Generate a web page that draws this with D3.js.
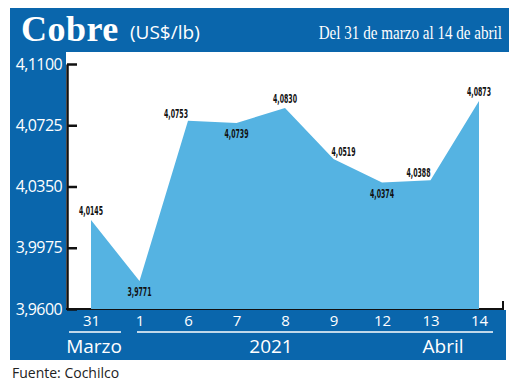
<!DOCTYPE html>
<html lang="es">
<head>
<meta charset="UTF-8">
<script src="https://d3js.org/d3.v7.min.js"></script>
<style>
    body { margin: 0; background: #fff; }
    svg { display: block; }
    .tick text { fill: #fff; font-family: "Open Sans", sans-serif; }
    .lbl { font-family: "Liberation Sans Narrow", "DejaVu Sans Condensed", sans-serif; font-weight: bold; font-size: 12px; fill: #111; }
</style>
</head>
<body>
<div id="chart"></div>
<script>
// data
const days = ["31", "1", "6", "7", "8", "9", "12", "13", "14"];
const prices = [4.0145, 3.9771, 4.0753, 4.0739, 4.0830, 4.0519, 4.0374, 4.0388, 4.0873];
const yTicks = [3.9600, 3.9975, 4.0350, 4.0725, 4.1100];
// where each value label sits relative to its point
const labelPos = ["above", "below", "left", "below", "above", "right", "below", "left", "above"];
const monthLabels = [
    { text: "Marzo", x: 94 },
    { text: "2021", x: 271 },
    { text: "Abril", x: 443 }
];

const W = 520, H = 386;
const blue = "#0a66ac";
const fill = "#55b3e2";
const fmt = v => d3.format(".4f")(v).replace(".", ",");

const svg = d3.select("#chart").append("svg")
    .attr("width", W)
    .attr("height", H);

// blue frame
svg.append("rect").attr("x", 10).attr("y", 8).attr("width", 499).attr("height", 44).attr("fill", blue);
svg.append("rect").attr("x", 10).attr("y", 8).attr("width", 56).attr("height", 352).attr("fill", blue);
svg.append("rect").attr("x", 10).attr("y", 310).attr("width", 496).attr("height", 50).attr("fill", blue);

// header
svg.append("text")
    .attr("x", 21).attr("y", 41)
    .attr("fill", "#fff")
    .style("font-family", "'Liberation Serif', serif")
    .style("font-weight", "bold")
    .style("font-size", "36px")
    .style("letter-spacing", "0.5px")
    .text("Cobre");
svg.append("text")
    .attr("x", 130).attr("y", 39)
    .attr("fill", "#fff")
    .style("font-family", "'Open Sans', sans-serif")
    .style("font-size", "19px")
    .text("(US$/lb)");
svg.append("g")
    .attr("transform", "translate(502,39) scale(0.84,1)")
    .append("text")
    .attr("text-anchor", "end")
    .attr("fill", "#fff")
    .style("font-family", "'Liberation Serif', serif")
    .style("font-size", "18px")
    .text("Del 31 de marzo al 14 de abril");

const x = d3.scalePoint().domain(days).range([91, 479]);
const y = d3.scaleLinear().domain([3.96, 4.11]).range([309, 64]);

// y axis
const yAxis = svg.append("g")
    .attr("transform", "translate(67,0)")
    .call(d3.axisLeft(y).tickValues(yTicks).tickFormat(fmt)
        .tickSizeInner(-10).tickSizeOuter(0).tickPadding(5));
yAxis.select(".domain").attr("stroke", "#111").attr("stroke-width", 2.5);
yAxis.selectAll(".tick line").attr("stroke", "#111").attr("stroke-width", 2.5);
yAxis.selectAll(".tick text").style("font-size", "16px").style("letter-spacing", "-0.6px");

// bottom baseline
svg.append("path")
    .attr("d", `M66,${y(3.96)}H503V${y(3.96) - 8}`)
    .attr("fill", "none")
    .attr("stroke", "#111")
    .attr("stroke-width", 2);

// area
const area = d3.area()
    .x((d, i) => x(days[i]))
    .y0(y(3.96))
    .y1(d => y(d));
svg.append("path")
    .datum(prices)
    .attr("d", area)
    .attr("fill", fill);

// value labels
svg.selectAll(".lbl")
    .data(prices)
    .enter()
    .append("text")
    .attr("class", "lbl")
    .attr("x", (d, i) => labelPos[i] === "right" ? x(days[i]) - 2 : x(days[i]))
    .attr("y", (d, i) => {
        const py = y(d);
        if (labelPos[i] === "below") return py + 15;
        if (labelPos[i] === "left" || labelPos[i] === "right") return py - 3;
        return py - 5;
    })
    .attr("text-anchor", (d, i) => labelPos[i] === "left" ? "end" : labelPos[i] === "right" ? "start" : "middle")
    .attr("textLength", 24)
    .attr("lengthAdjust", "spacingAndGlyphs")
    .text(fmt);

// x axis labels
const xAxis = svg.append("g")
    .attr("transform", "translate(0,313)")
    .call(d3.axisBottom(x).tickSize(0).tickPadding(2));
xAxis.select(".domain").remove();
xAxis.selectAll(".tick text").style("font-size", "15px");

// month separators
svg.append("line").attr("x1", 69).attr("x2", 121).attr("y1", 332).attr("y2", 332)
    .attr("stroke", "#fff").attr("stroke-width", 1.5);
svg.append("line").attr("x1", 137).attr("x2", 493).attr("y1", 332).attr("y2", 332)
    .attr("stroke", "#fff").attr("stroke-width", 1.5);

svg.selectAll(".month")
    .data(monthLabels)
    .enter()
    .append("text")
    .attr("class", "month")
    .attr("x", d => d.x)
    .attr("y", 353)
    .attr("text-anchor", "middle")
    .attr("fill", "#fff")
    .style("font-family", "'Open Sans', sans-serif")
    .style("font-size", "19px")
    .text(d => d.text);

// source
svg.append("text")
    .attr("x", 12).attr("y", 378)
    .attr("fill", "#222")
    .style("font-family", "'Open Sans', sans-serif")
    .style("font-size", "14px")
    .text("Fuente: Cochilco");
</script>
</body>
</html>
